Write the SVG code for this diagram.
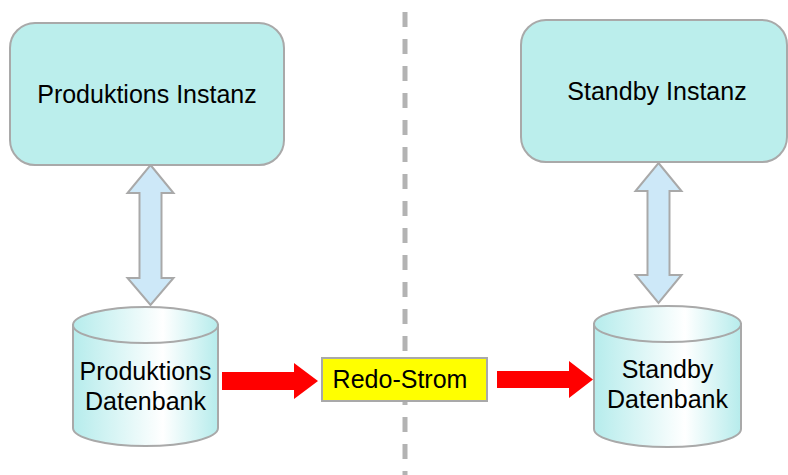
<svg xmlns="http://www.w3.org/2000/svg" width="788" height="475" viewBox="0 0 788 475">
  <defs>
    <linearGradient id="cylFill" x1="0" y1="0" x2="1" y2="0">
      <stop offset="0" stop-color="#b6ecec"/>
      <stop offset="0.62" stop-color="#ffffff"/>
      <stop offset="1" stop-color="#b6ecec"/>
    </linearGradient>
  </defs>
  <style>
    .inst { fill: #bbeeec; stroke: #a9a9a9; stroke-width: 2; }
    .cyl { fill: url(#cylFill); stroke: #a9a9a9; stroke-width: 2; }
    .dbl { fill: #cde8f8; stroke: #a9a9a9; stroke-width: 2; stroke-linejoin: miter; }
    .flow { fill: #ff0000; stroke: none; }
    .label { font-family: "Liberation Sans", Arial, sans-serif; font-size: 25px; fill: #000; text-anchor: middle; }
    .divider { stroke: #b3b3b3; stroke-width: 5; stroke-dasharray: 15 12; fill: none; }
    .redo { fill: #ffff00; stroke: #a9a9a9; stroke-width: 2; }
  </style>

  <!-- separator between the two sites -->
  <line class="divider" x1="405" y1="12" x2="405" y2="475"/>

  <g id="connectors">
    <!-- instance <-> database -->
    <polygon class="dbl" points="150.5,165 173.5,193 161.5,193 161.5,278 173.5,278 150.5,305 127.5,278 139.5,278 139.5,193 127.5,193"/>
    <polygon class="dbl" points="658.5,163 681.5,191 669.5,191 669.5,275 681.5,275 658.5,303 635.5,275 647.5,275 647.5,191 635.5,191"/>
    <!-- redo transport -->
    <polygon class="flow" points="222,372 294,372 294,363 318,381 294,399 294,390 222,390"/>
    <polygon class="flow" points="497,371 569,371 569,361 593,379.5 569,398 569,388 497,388"/>
  </g>

  <g id="prod-instance">
    <rect class="inst" x="10" y="23" width="274" height="142" rx="25" ry="25"/>
    <text class="label" x="147" y="103">Produktions Instanz</text>
  </g>

  <g id="standby-instance">
    <rect class="inst" x="521" y="20" width="266" height="142" rx="25" ry="25"/>
    <text class="label" x="657" y="100">Standby Instanz</text>
  </g>

  <g id="prod-db">
    <path class="cyl" d="M73,325 V428 A72.5,18 0 0 0 218,428 V325 Z"/>
    <ellipse class="cyl" cx="145.5" cy="325" rx="72.5" ry="18"/>
    <text class="label" x="145.5" y="380">Produktions</text>
    <text class="label" x="145.5" y="410">Datenbank</text>
  </g>

  <g id="redo-stream">
    <rect class="redo" x="322" y="358" width="165" height="43"/>
    <text class="label" x="400" y="388">Redo-Strom</text>
  </g>

  <g id="standby-db">
    <path class="cyl" d="M594,324 V429 A73.5,18 0 0 0 741,429 V324 Z"/>
    <ellipse class="cyl" cx="667.5" cy="324" rx="73.5" ry="18"/>
    <text class="label" x="667.5" y="378">Standby</text>
    <text class="label" x="667.5" y="408">Datenbank</text>
  </g>
</svg>
